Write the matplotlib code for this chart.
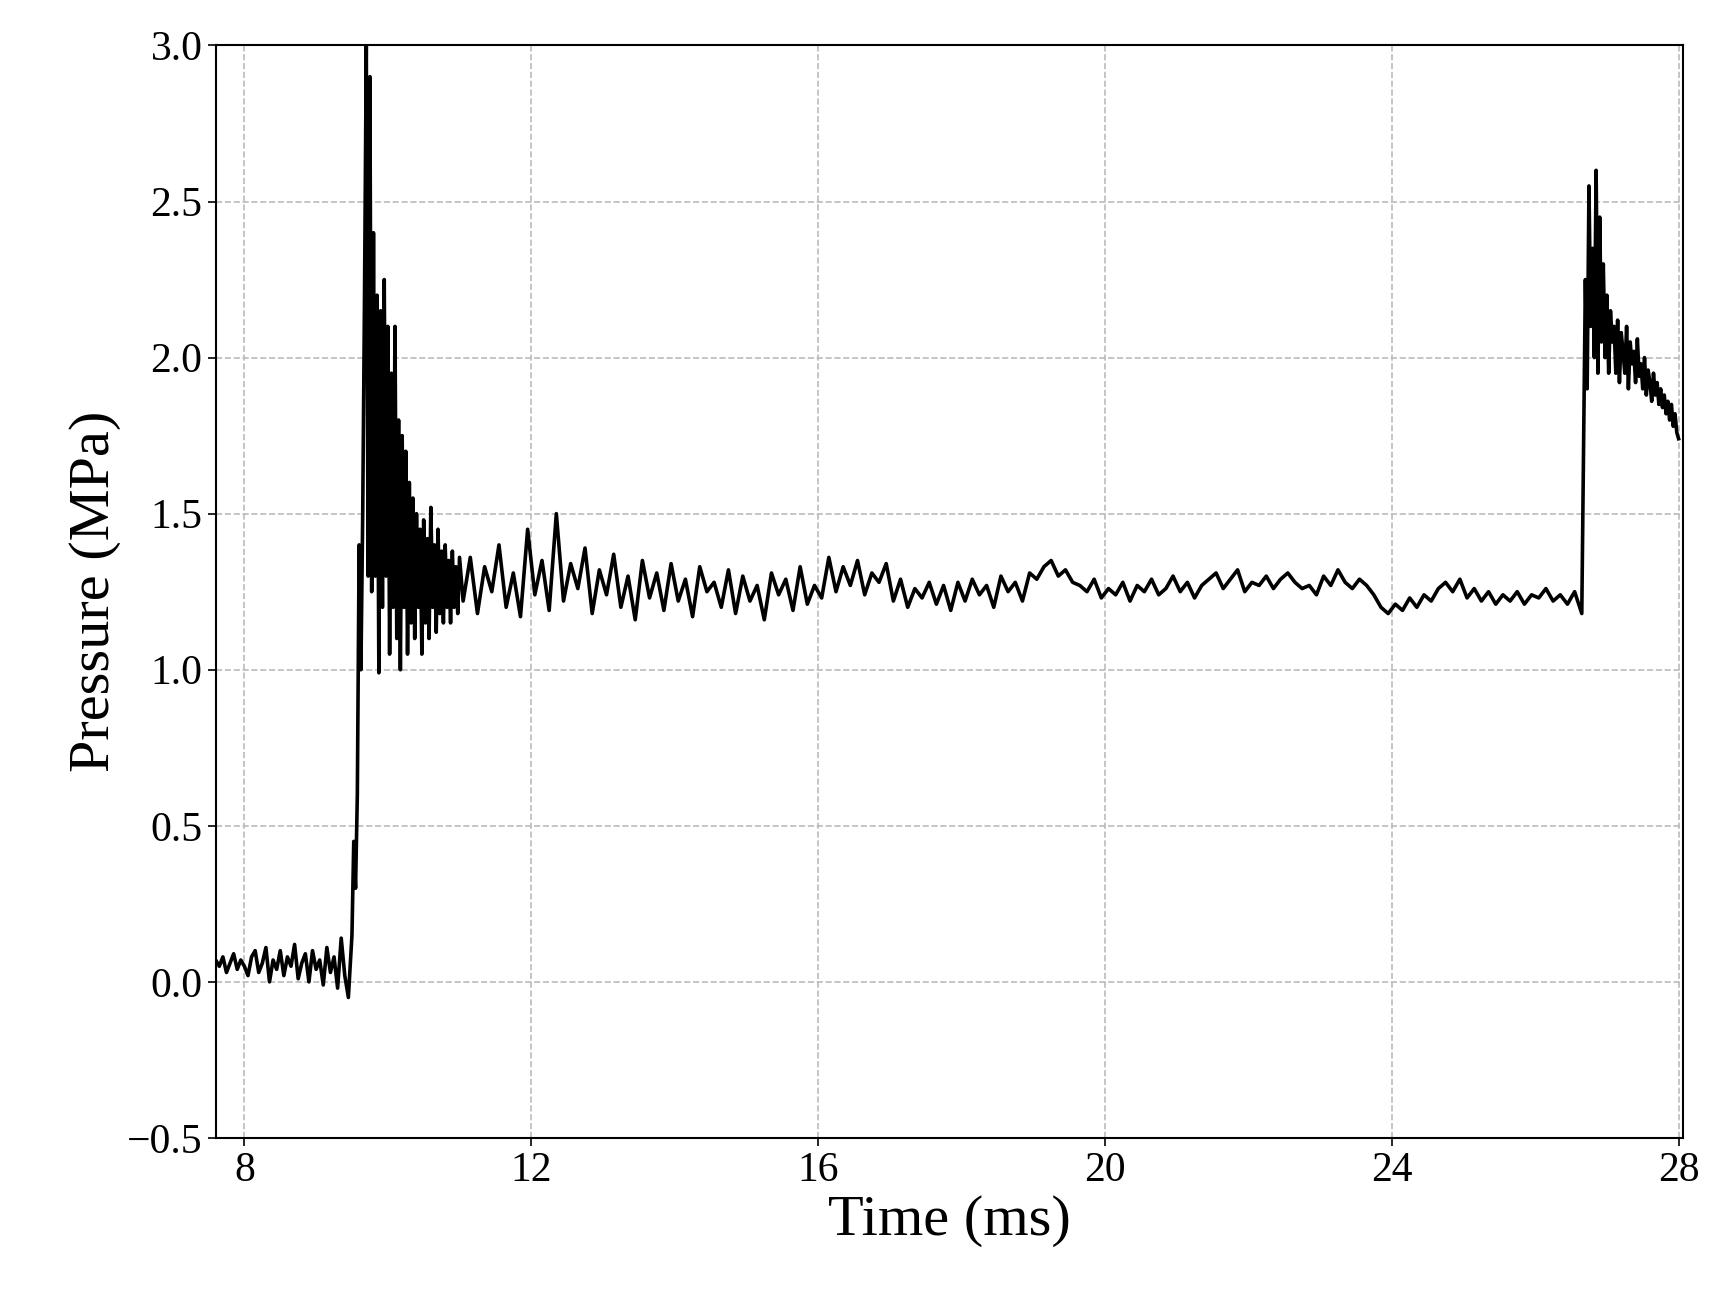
import numpy as np
import matplotlib
matplotlib.use("Agg")
import matplotlib.pyplot as plt

# Segment start times, steps and read-off pressure values (MPa)
seg_a_start, seg_a_step = 7.5, 0.05
seg_a = [0.06,0.04,0.07,0.05,0.08,0.03,0.06,0.09,0.04,0.07,0.05,0.02,0.08,0.10,0.03,0.06,0.11,0.00,0.07,0.04,
         0.10,0.02,0.08,0.05,0.12,0.01,0.06,0.09,0.00,0.10,0.04,0.07,-0.01,0.11,0.03,0.08,-0.02,0.14,0.02,-0.05]
seg_b_start, seg_b_step = 9.5, 0.025
seg_b = [0.15,0.45,0.30,0.60,1.40,1.00,1.50,2.20,3.00]
seg_c_start, seg_c_step = 9.725, 0.025
seg_c = [1.30,2.90,1.25,2.40,1.30,2.20,0.99,2.15,1.20,2.25,1.30,2.10,1.05,1.95,1.20,2.10,1.10,1.80,1.00,1.75,
         1.20,1.70,1.05,1.60,1.15,1.55,1.10,1.50,1.20,1.45,1.05,1.48,1.15,1.42,1.10,1.52,1.20,1.40,1.12,1.45,
         1.18,1.38,1.15,1.40,1.20,1.35,1.15,1.38,1.20,1.33,1.18,1.36]
seg_d_start, seg_d_step = 11.05, 0.1
seg_d = [1.22,1.36,1.18,1.33,1.25,1.40,1.20,1.31,1.17,1.45,1.24,1.35,1.19,1.50,1.22,1.34,1.26,1.39,1.18,1.32,
         1.24,1.37,1.20,1.30,1.16,1.35,1.23,1.31,1.19,1.34,1.22,1.29,1.17,1.33,1.25,1.28,1.20,1.32,1.18,1.30,
         1.22,1.27,1.16,1.31,1.24,1.29,1.19,1.33,1.21,1.27,1.23,1.36,1.25,1.33,1.27,1.35,1.24,1.31,1.28,1.34,
         1.22,1.29,1.20,1.26,1.23,1.28,1.21,1.27,1.19,1.28,1.22,1.29,1.24,1.27,1.20,1.30,1.25,1.28,1.22,1.31,
         1.29,1.33,1.35,1.30,1.32,1.28,1.27,1.25,1.29,1.23,1.26,1.24,1.28,1.22,1.27,1.25,1.29,1.24,1.26,1.30,
         1.25,1.28,1.23,1.27,1.29,1.31,1.26,1.29,1.32,1.25,1.28,1.27,1.30,1.26,1.29,1.31,1.28,1.26,1.27,1.24,
         1.30,1.27,1.32,1.28,1.26,1.29,1.27,1.24,1.20,1.18,1.21,1.19,1.23,1.20,1.24,1.22,1.26,1.28,1.25,1.29,
         1.23,1.26,1.22,1.25,1.21,1.24,1.22,1.25,1.21,1.24,1.23,1.26,1.22,1.24,1.21,1.25]
seg_e_start, seg_e_step = 26.65, 0.025
seg_e = [1.18,1.70,2.25,1.90,2.55,2.10,2.35,2.00,2.60,1.95,2.45,2.05,2.30,2.00,2.20,1.95,2.15,2.05,2.10,1.95,
         2.12,1.92,2.08,2.02,1.95,2.10,1.90,2.05,1.98,2.02,1.92,2.06,1.94,1.98,1.90,2.00,1.88,1.96,1.92,1.86,
         1.95,1.88,1.92,1.85,1.90,1.84,1.88,1.82,1.86,1.80,1.85,1.78,1.82,1.76,1.74]

x_ticks = [8, 12, 16, 20, 24, 28]
y_ticks = [-0.5, 0.0, 0.5, 1.0, 1.5, 2.0, 2.5, 3.0]

def seg(start, step, vals):
    return start + step * np.arange(len(vals)), np.array(vals)

parts = [seg(seg_a_start, seg_a_step, seg_a), seg(seg_b_start, seg_b_step, seg_b),
         seg(seg_c_start, seg_c_step, seg_c), seg(seg_d_start, seg_d_step, seg_d),
         seg(seg_e_start, seg_e_step, seg_e)]
t = np.concatenate([p[0] for p in parts])
p = np.concatenate([p[1] for p in parts])

plt.rcParams['font.family'] = ['Liberation Serif', 'DejaVu Serif']
fig = plt.figure(figsize=(17.12, 12.99), dpi=100)
ax = fig.add_axes([0.126, 0.124, 0.857, 0.841])
ax.plot(t, p, color='black', lw=2.6)
ax.set_xlim(7.6, 28.06)
ax.set_ylim(-0.5, 3.0)
ax.set_xticks(x_ticks)
ax.set_yticks(y_ticks)
ax.set_yticklabels(['\u22120.5', '0.0', '0.5', '1.0', '1.5', '2.0', '2.5', '3.0'])
ax.tick_params(labelsize=30, length=6, width=1.2)
ax.grid(True, ls='--', color='#bbbbbb', lw=1.2)
for s in ax.spines.values():
    s.set_linewidth(1.5)
ax.set_xlabel('Time (ms)', fontsize=42)
ax.set_ylabel('Pressure (MPa)', fontsize=42)
fig.savefig('out.png', dpi=100)
